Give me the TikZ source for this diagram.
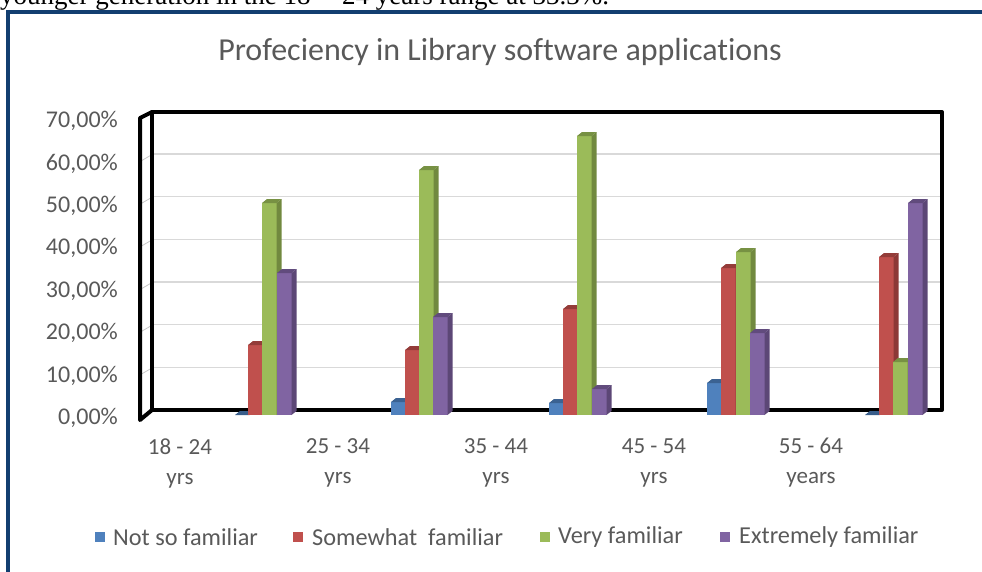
\documentclass[tikz,border=0pt]{standalone}
\usepackage{fontspec}
\setmainfont{Carlito}[Ligatures=CommonOff]
\newfontfamily\docserif{Liberation Serif}
\definecolor{navy}{HTML}{123E70}
\definecolor{labgray}{HTML}{595959}
\definecolor{gridgray}{HTML}{D9D9D9}
\definecolor{cblue}{HTML}{4F81BD}
\definecolor{cbluesd}{HTML}{385D8A}
\definecolor{cred}{HTML}{C0504D}
\definecolor{credsd}{HTML}{8C3836}
\definecolor{cgreen}{HTML}{9BBB59}
\definecolor{cgreensd}{HTML}{71893F}
\definecolor{cpurple}{HTML}{8064A2}
\definecolor{cpurplesd}{HTML}{5C4776}
\tikzset{
  gridln/.style={draw=gridgray, line width=1.6pt},
  walltick/.style={draw=gridgray!80!gray, line width=0.8pt},
  framel/.style={draw=black, line width=4pt, line join=round, line cap=round},
  lab/.style={text=labgray, font=\fontsize{23}{30}\selectfont, inner sep=0pt},
  ylab/.style={text=labgray, font=\fontsize{24}{30}\selectfont, inner sep=0pt},
  leglab/.style={text=labgray, font=\fontsize{24.3}{30}\selectfont, inner sep=0pt},
  titlelab/.style={text=labgray, font=\fontsize{32}{34}\selectfont, inner sep=0pt},
  legsq/.style={minimum width=10pt, minimum height=10pt, inner sep=0pt},
}
% bar: x-left, top, colour, side colour
\newcommand\cbarx[4]{%
  \fill[#3] (#1,#2) rectangle ({#1+14.5},415);
  \fill[#4] ({#1+14.5},415) -- ({#1+14.5},#2) -- ({#1+19.5},{#2-4}) -- ({#1+19.5},411) -- cycle;
  \fill[#4!85!#3] (#1,#2) -- ({#1+5},{#2-4}) -- ({#1+19.5},{#2-4}) -- ({#1+14.5},#2) -- cycle;
}
\newcommand\cbarzero[3]{%
  \fill[#3] (#1,415) -- ({#1+5},411) -- ({#1+19.5},411) -- ({#1+14.5},415) -- cycle;
}
\begin{document}
\begin{tikzpicture}[x=1pt,y=-1pt]
\useasboundingbox (0,0) rectangle (982,571);
\begin{scope}
\clip (0,0) rectangle (982,571);
% clipped sentence above the box
\node[anchor=base west, inner sep=0pt, font=\docserif\fontsize{27}{30}\selectfont] (sent) at (0,4) {younger generation in the 18 -- 24 years range at 33.3\%.};
% outer box
\draw[navy, line width=4pt] (8,590) -- (8,12) -- (1000,12);
\end{scope}
% title
\node[titlelab] (title) at (500,52) {Profeciency in Library software applications};
% gridlines
\foreach \k in {1,...,6}{
  \draw[gridln] (153,{410-42.67*\k}) -- (940,{410-42.67*\k});
  \draw[walltick] (141,{417-42.67*\k}) -- (153,{410-42.67*\k});
}
% frame
\draw[framel] (152,410) -- (152,112) -- (942,112) -- (942,410) -- (152,410);
\draw[framel] (152,112) -- (140,118) -- (140,420) -- (152,410);
% y labels
\foreach \v [count=\i from 0] in {0,10,20,30,40,50,60,70}{
  \node[ylab, anchor=east] (ylab\i) at (118,{418-42.43*\i}) {\v,00\%};
}
% bars group 1
\cbarzero{235}{cblue}{cbluesd}
\cbarx{248}{345}{cred}{credsd}
\cbarx{262}{203}{cgreen}{cgreensd}
\cbarx{277}{273}{cpurple}{cpurplesd}
% group 2
\cbarx{391}{402}{cblue}{cbluesd}
\cbarx{405}{350}{cred}{credsd}
\cbarx{419}{170}{cgreen}{cgreensd}
\cbarx{433}{317}{cpurple}{cpurplesd}
% group 3
\cbarx{549}{403}{cblue}{cbluesd}
\cbarx{563}{309}{cred}{credsd}
\cbarx{577}{136}{cgreen}{cgreensd}
\cbarx{592}{389}{cpurple}{cpurplesd}
% group 4
\cbarx{707}{383}{cblue}{cbluesd}
\cbarx{721}{268}{cred}{credsd}
\cbarx{736}{252}{cgreen}{cgreensd}
\cbarx{750}{333}{cpurple}{cpurplesd}
% group 5
\cbarzero{865}{cblue}{cbluesd}
\cbarx{879}{257}{cred}{credsd}
\cbarx{893}{362}{cgreen}{cgreensd}
\cbarx{908}{203}{cpurple}{cpurplesd}
% x labels
\node[lab, align=center] (x1) at (180,463) {18 - 24\\yrs};
\node[lab, align=center] (x2) at (338,463) {25 - 34\\yrs};
\node[lab, align=center] (x3) at (496,463) {35 - 44\\yrs};
\node[lab, align=center] (x4) at (654,463) {45 - 54\\yrs};
\node[lab, align=center] (x5) at (811,463) {55 - 64\\years};
% legend
\node[legsq, fill=cblue] (l1) at (100,537) {};
\node[leglab, anchor=west] (t1) at (113,537) {Not so familiar};
\node[legsq, fill=cred] (l2) at (298,537) {};
\node[leglab, anchor=west] (t2) at (312,537) {Somewhat\ \ familiar};
\node[legsq, fill=cgreen] (l3) at (545,537) {};
\node[leglab, anchor=west] (t3) at (558,537) {Very familiar};
\node[legsq, fill=cpurple] (l4) at (725,537) {};
\node[leglab, anchor=west] (t4) at (739,537) {Extremely familiar};
\end{tikzpicture}
\end{document}
